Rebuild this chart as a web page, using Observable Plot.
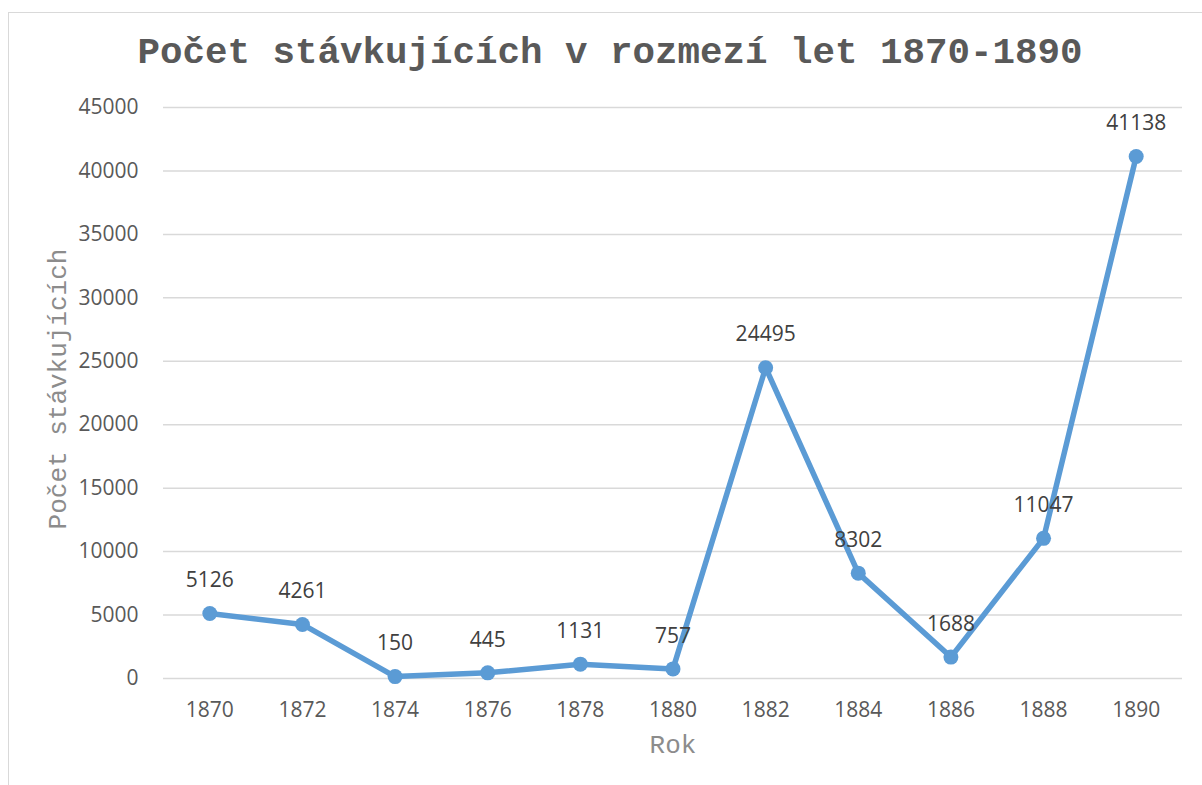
<!DOCTYPE html>
<html>
<head>
<meta charset="utf-8">
<script src="https://cdn.jsdelivr.net/npm/d3@7"></script>
<script src="https://cdn.jsdelivr.net/npm/@observablehq/plot@0.6"></script>
<style>
  html, body { margin: 0; padding: 0; background: #fff; overflow: hidden; }
  #wrap { position: relative; width: 1202px; height: 785px; }
  #frame { position: absolute; left: 8px; top: 12px; width: 1300px; height: 900px;
           border-left: 1.5px solid #d9d9d9; border-top: 1.5px solid #d9d9d9; }
  #title { position: absolute; left: 0; width: 1220px; top: 28px; text-align: center;
           font-family: "Liberation Mono", monospace; font-weight: bold; font-size: 37.5px;
           color: #595959; margin: 0; line-height: 50px; }
  #chart { position: absolute; left: 0; top: 0; }
</style>
</head>
<body>
<div id="wrap">
  <div id="frame"></div>
  <div id="title">Počet stávkujících v rozmezí let 1870-1890</div>
  <div id="chart"></div>
</div>
<script>
const years = [1870, 1872, 1874, 1876, 1878, 1880, 1882, 1884, 1886, 1888, 1890];
const strikers = [5126, 4261, 150, 445, 1131, 757, 24495, 8302, 1688, 11047, 41138];
const yTicks = [0, 5000, 10000, 15000, 20000, 25000, 30000, 35000, 40000, 45000];
const xTitle = "Rok";
const yTitle = "Počet stávkujících";

const data = years.map((y, i) => ({year: y, value: strikers[i]}));

const chart = Plot.plot({
  width: 1202,
  height: 785,
  marginTop: 107,
  marginBottom: 107,
  marginLeft: 163,
  marginRight: 20,
  style: {background: "transparent", overflow: "visible"},
  x: {domain: [1869, 1891], ticks: years, tickFormat: d => String(d), tickSize: 0, tickPadding: 24, label: null},
  y: {domain: [0, 45000], ticks: yTicks, tickFormat: d => String(d), tickSize: 0, tickPadding: 25, label: null},
  marks: [
    Plot.gridY(yTicks, {stroke: "#d9d9d9", strokeWidth: 1.5, strokeOpacity: 1}),
    Plot.axisX({ticks: years, tickFormat: d => String(d), tickSize: 0, tickPadding: 24,
      fontSize: 21, fill: "#595959", fontFamily: "Open Sans, sans-serif", label: null}),
    Plot.axisY({ticks: yTicks, tickFormat: d => String(d), tickSize: 0, tickPadding: 25,
      fontSize: 21, fill: "#595959", fontFamily: "Open Sans, sans-serif", label: null}),
    Plot.line(data, {x: "year", y: "value", stroke: "#5b9bd5", strokeWidth: 5.5, strokeLinejoin: "round"}),
    Plot.dot(data, {x: "year", y: "value", r: 7.5, fill: "#5b9bd5", stroke: "none"}),
    Plot.text(data, {x: "year", y: "value", text: d => String(d.value), dy: -33,
      fontSize: 21, fill: "#404040", fontFamily: "Open Sans, sans-serif"}),
    Plot.text([xTitle], {frameAnchor: "bottom", dy: 74, text: d => d,
      fontSize: 26, fill: "#8c8c8c", fontFamily: "Liberation Mono, monospace"}),
    Plot.text([yTitle], {frameAnchor: "left", dx: -106, dy: -4, rotate: -90, textAnchor: "middle", text: d => d,
      fontSize: 26, fill: "#8c8c8c", fontFamily: "Liberation Mono, monospace"})
  ]
});
document.getElementById("chart").appendChild(chart);
</script>
</body>
</html>
